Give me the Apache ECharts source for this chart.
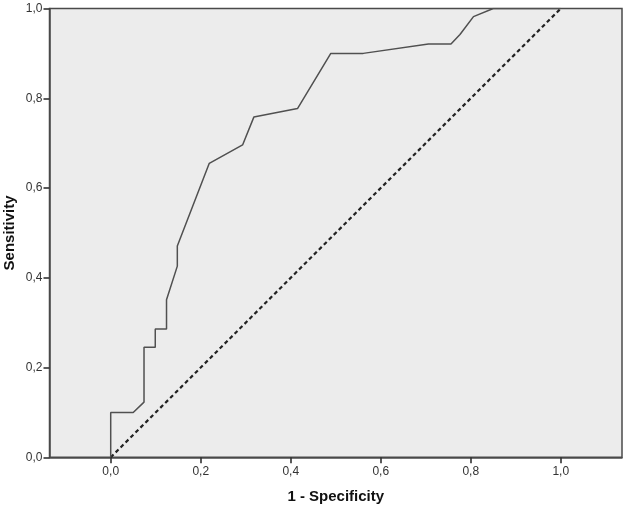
<!DOCTYPE html>
<html>
<head>
<meta charset="utf-8">
<script src="https://cdn.jsdelivr.net/npm/echarts@6/dist/echarts.min.js"></script>
<style>html,body{margin:0;padding:0;background:#fff}#c{width:626px;height:509px}</style>
</head>
<body>
<div id="c"></div>
<script>
// ROC curve values
const fpr = [0, 0, 0.05, 0.074, 0.074, 0.099, 0.099, 0.124, 0.124, 0.148, 0.148, 0.219, 0.293, 0.318, 0.415, 0.489, 0.561, 0.706, 0.756, 0.776, 0.806, 0.85, 1.0];
const tpr = [0, 0.10, 0.10, 0.123, 0.245, 0.245, 0.286, 0.286, 0.351, 0.426, 0.471, 0.655, 0.696, 0.758, 0.777, 0.900, 0.900, 0.921, 0.921, 0.942, 0.982, 1.0, 1.0];
const refX = [0, 1];
const refY = [0, 1];
const tickValues = [0, 0.2, 0.4, 0.6, 0.8, 1.0];
const tickLabels = ['0,0', '0,2', '0,4', '0,6', '0,8', '1,0'];
const xName = '1 - Specificity';
const yName = 'Sensitivity';

const roc = fpr.map((x, i) => [x, tpr[i]]);
const ref = refX.map((x, i) => [x, refY[i]]);
const fmt = v => { const i = tickValues.findIndex(t => Math.abs(t - v) < 1e-6); return i >= 0 ? tickLabels[i] : ''; };
const font = 'Liberation Sans, Arial, sans-serif';

const chart = echarts.init(document.getElementById('c'), null, {renderer: 'canvas'});
chart.setOption({
  animation: false,
  backgroundColor: '#fff',
  grid: {left: 49.5, right: 4, top: 8.5, bottom: 51.7, outerBoundsMode: 'none', containLabel: false, show: true, backgroundColor: '#ececec', borderColor: '#4a4a4a', borderWidth: 1.5},
  xAxis: {
    type: 'value', min: -0.136, max: 1.136,
    name: xName, nameLocation: 'middle', nameGap: 32,
    nameTextStyle: {fontFamily: font, fontSize: 15, fontWeight: 'bold', color: '#111'},
    axisLine: {show: true, onZero: false, lineStyle: {color: '#4a4a4a', width: 1.5}},
    splitLine: {show: false},
    axisTick: {show: true, inside: false, length: 6, customValues: tickValues, lineStyle: {color: '#333', width: 1.6}},
    axisLabel: {customValues: tickValues, formatter: fmt, fontFamily: font, fontSize: 12, color: '#333', margin: 8}
  },
  yAxis: {
    type: 'value', min: 0, max: 1, interval: 0.2,
    name: yName, nameLocation: 'middle', nameGap: 32, nameRotate: 90, nameMoveOverlap: false,
    nameTextStyle: {fontFamily: font, fontSize: 15, fontWeight: 'bold', color: '#111'},
    axisLine: {show: true, onZero: false, lineStyle: {color: '#4a4a4a', width: 1.5}},
    splitLine: {show: false},
    axisTick: {show: true, length: 6, lineStyle: {color: '#333', width: 1.6}},
    axisLabel: {formatter: fmt, fontFamily: font, fontSize: 12, color: '#333', margin: 7}
  },
  series: [
    {type: 'line', data: ref, symbol: 'none', lineStyle: {color: '#222', width: 2.2, type: [4, 3]}, z: 2},
    {type: 'line', data: roc, symbol: 'none', lineStyle: {color: '#505050', width: 1.5}, z: 3}
  ]
});
</script>
</body>
</html>
